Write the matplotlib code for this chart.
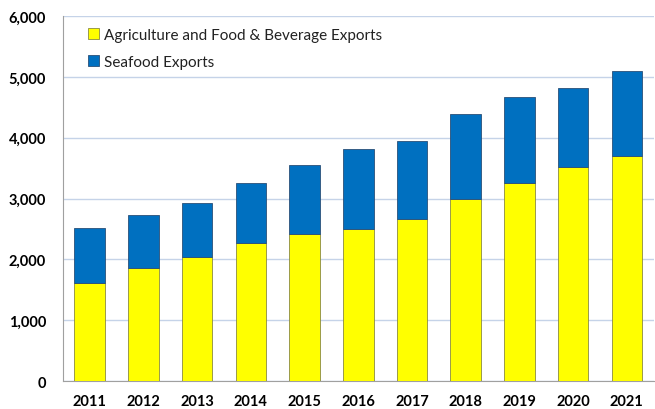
import matplotlib
matplotlib.use("Agg")
import matplotlib.pyplot as plt
import numpy as np

plt.rcParams['font.family'] = ['Lato', 'DejaVu Sans']

# values
years = ["2011", "2012", "2013", "2014", "2015", "2016", "2017", "2018", "2019", "2020", "2021"]
agri_food = [1610, 1855, 2035, 2270, 2410, 2495, 2660, 2990, 3255, 3520, 3705]
seafood = [905, 875, 900, 985, 1135, 1325, 1285, 1400, 1420, 1300, 1395]

x = np.arange(len(years))

fig = plt.figure(figsize=(6.55, 4.10), dpi=100)
ax = fig.add_axes([0.096, 0.068, 0.902, 0.8905])

ax.bar(x, agri_food, width=0.57, color="#ffff00", edgecolor="#8a8a40", linewidth=0.6,
       label="Agriculture and Food & Beverage Exports", zorder=3)
ax.bar(x, seafood, width=0.57, bottom=agri_food, color="#0070c0", edgecolor="#2a4f78",
       linewidth=0.6, label="Seafood Exports", zorder=3)

ax.set_xlim(-0.5, len(years) - 0.5)
ax.set_ylim(0, 6000)
ax.set_yticks(range(0, 6001, 1000))
ax.set_yticklabels([f"{v:,}" for v in range(0, 6001, 1000)], fontweight="bold", fontsize=10.5)
ax.set_xticks(x)
ax.set_xticklabels(years, fontweight="bold", fontsize=10.5)
ax.tick_params(axis="both", length=0, pad=12)
ax.tick_params(axis="x", pad=9)

ax.yaxis.grid(True, color="#c5d3e8", linewidth=1, zorder=0)
for s in ["top", "right"]:
    ax.spines[s].set_visible(False)
ax.spines["left"].set_color("#a0a0a0")
ax.spines["bottom"].set_color("#a0a0a0")

leg = ax.legend(loc="upper left", bbox_to_anchor=(0.02, 1.005), frameon=False, fontsize=11,
                handlelength=0.7, handleheight=0.7, handletextpad=0.35, labelspacing=0.85)
for t in leg.get_texts():
    t.set_color("#222222")

fig.savefig("out.png", dpi=100)
